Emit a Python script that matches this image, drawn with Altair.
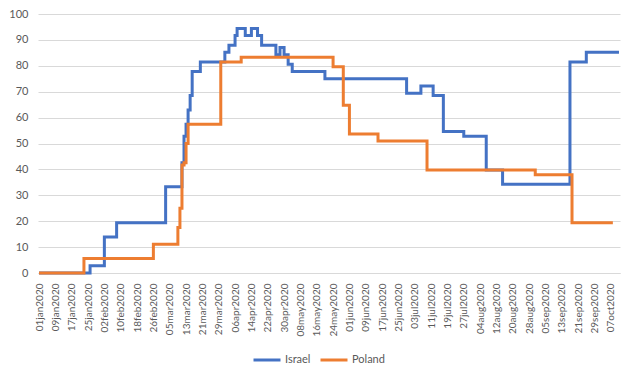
import altair as alt
import pandas as pd

# ---- data (step change points) ----
israel_dates = ["2020-01-01", "2020-01-26", "2020-02-02", "2020-02-08", "2020-03-03",
                "2020-03-11", "2020-03-12", "2020-03-13", "2020-03-14", "2020-03-15",
                "2020-03-16", "2020-03-20", "2020-04-01", "2020-04-03", "2020-04-06",
                "2020-04-07", "2020-04-11", "2020-04-14", "2020-04-17", "2020-04-19",
                "2020-04-26", "2020-04-28", "2020-04-30", "2020-05-02", "2020-05-04",
                "2020-05-20", "2020-06-29", "2020-07-06", "2020-07-12", "2020-07-17",
                "2020-07-27", "2020-08-07", "2020-08-15", "2020-09-17", "2020-09-25",
                "2020-10-11"]
israel_values = [0, 2.78, 13.89, 19.44, 33.33,
                 42.59, 52.78, 57.41, 62.96, 68.52,
                 77.78, 81.48, 85.19, 87.96, 91.67,
                 94.44, 91.67, 94.44, 91.67, 87.96,
                 84.26, 87.04, 84.26, 80.56, 77.78,
                 75.0, 69.44, 72.22, 68.52, 54.63,
                 52.78, 39.81, 34.26, 81.48, 85.19,
                 85.19]

poland_dates = ["2020-01-01", "2020-01-23", "2020-02-26", "2020-03-09", "2020-03-10",
                "2020-03-11", "2020-03-12", "2020-03-13", "2020-03-14", "2020-03-30",
                "2020-04-09", "2020-05-24", "2020-05-29", "2020-06-01", "2020-06-15",
                "2020-07-09", "2020-08-31", "2020-09-18", "2020-10-08"]
poland_values = [0, 5.56, 11.11, 17.59, 25.0,
                 41.67, 42.59, 50.0, 57.41, 81.48,
                 83.33, 79.63, 64.81, 53.7, 50.93,
                 39.81, 37.96, 19.44, 19.44]

tick_dates = ["2020-01-01", "2020-01-09", "2020-01-17", "2020-01-25", "2020-02-02",
              "2020-02-10", "2020-02-18", "2020-02-26", "2020-03-05", "2020-03-13",
              "2020-03-21", "2020-03-29", "2020-04-06", "2020-04-14", "2020-04-22",
              "2020-04-30", "2020-05-08", "2020-05-16", "2020-05-24", "2020-06-01",
              "2020-06-09", "2020-06-17", "2020-06-25", "2020-07-03", "2020-07-11",
              "2020-07-19", "2020-07-27", "2020-08-04", "2020-08-12", "2020-08-20",
              "2020-08-28", "2020-09-05", "2020-09-13", "2020-09-21", "2020-09-29",
              "2020-10-07"]
y_ticks = [0, 10, 20, 30, 40, 50, 60, 70, 80, 90, 100]

series = ["Israel", "Poland"]
colors = ["#4472C4", "#ED7D31"]

def ms(s):
    return int(pd.Timestamp(s, tz="UTC").value // 10**6)

df_i = pd.DataFrame({"date": israel_dates, "value": israel_values, "country": "Israel"})
df_p = pd.DataFrame({"date": poland_dates, "value": poland_values, "country": "Poland"})

FONT = "Lato"
GREY = "#595959"

x_enc = alt.X(
    "date:T",
    scale=alt.Scale(type="utc", domain=[ms("2019-12-31T12:00:00"), ms("2020-10-11T12:00:00")]),
    axis=alt.Axis(
        title=None,
        values=[ms(d) for d in tick_dates],
        labelExpr="lower(utcFormat(datum.value, '%d%b%Y'))",
        labelAngle=270,
        labelOverlap=False,
        labelFlush=False,
        labelBound=False,
        labelPadding=10,
        ticks=False,
        grid=False,
        domainColor="#d9d9d9",
        domainWidth=1,
        labelFont=FONT,
        labelFontSize=10,
        labelColor=GREY,
    ),
)
y_enc = alt.Y(
    "value:Q",
    scale=alt.Scale(domain=[0, 100], nice=False, zero=True),
    axis=alt.Axis(
        title=None,
        values=y_ticks,
        domain=False,
        ticks=False,
        labelPadding=10,
        grid=True,
        gridColor="#d9d9d9",
        gridWidth=1,
        labelFont=FONT,
        labelFontSize=11,
        labelColor=GREY,
    ),
)
color_enc = alt.Color(
    "country:N",
    scale=alt.Scale(domain=series, range=colors),
    legend=alt.Legend(
        title=None,
        orient="none",
        direction="horizontal",
        legendX=214,
        legendY=331,
        symbolType="stroke",
        symbolSize=729,
        symbolStrokeWidth=3,
        labelFont=FONT,
        labelFontSize=11,
        labelColor=GREY,
        labelOffset=3,
        columnPadding=3,
        padding=0,
    ),
)

line_i = alt.Chart(df_i).mark_line(strokeWidth=3, interpolate="step-after").encode(
    x=x_enc, y=y_enc, color=color_enc
)
line_p = alt.Chart(df_p).mark_line(strokeWidth=3, interpolate="step-after").encode(
    x=x_enc, y=y_enc, color=color_enc
)

chart = alt.layer(line_i, line_p).properties(
    width=582,
    height=259,
    autosize=alt.AutoSizeParams(type="none"),
    padding={"left": 30, "top": 6, "right": 7, "bottom": 97},
    background="white",
).configure_view(stroke=None)

chart.save("out.html", embed_options={"renderer": "svg", "actions": False})
